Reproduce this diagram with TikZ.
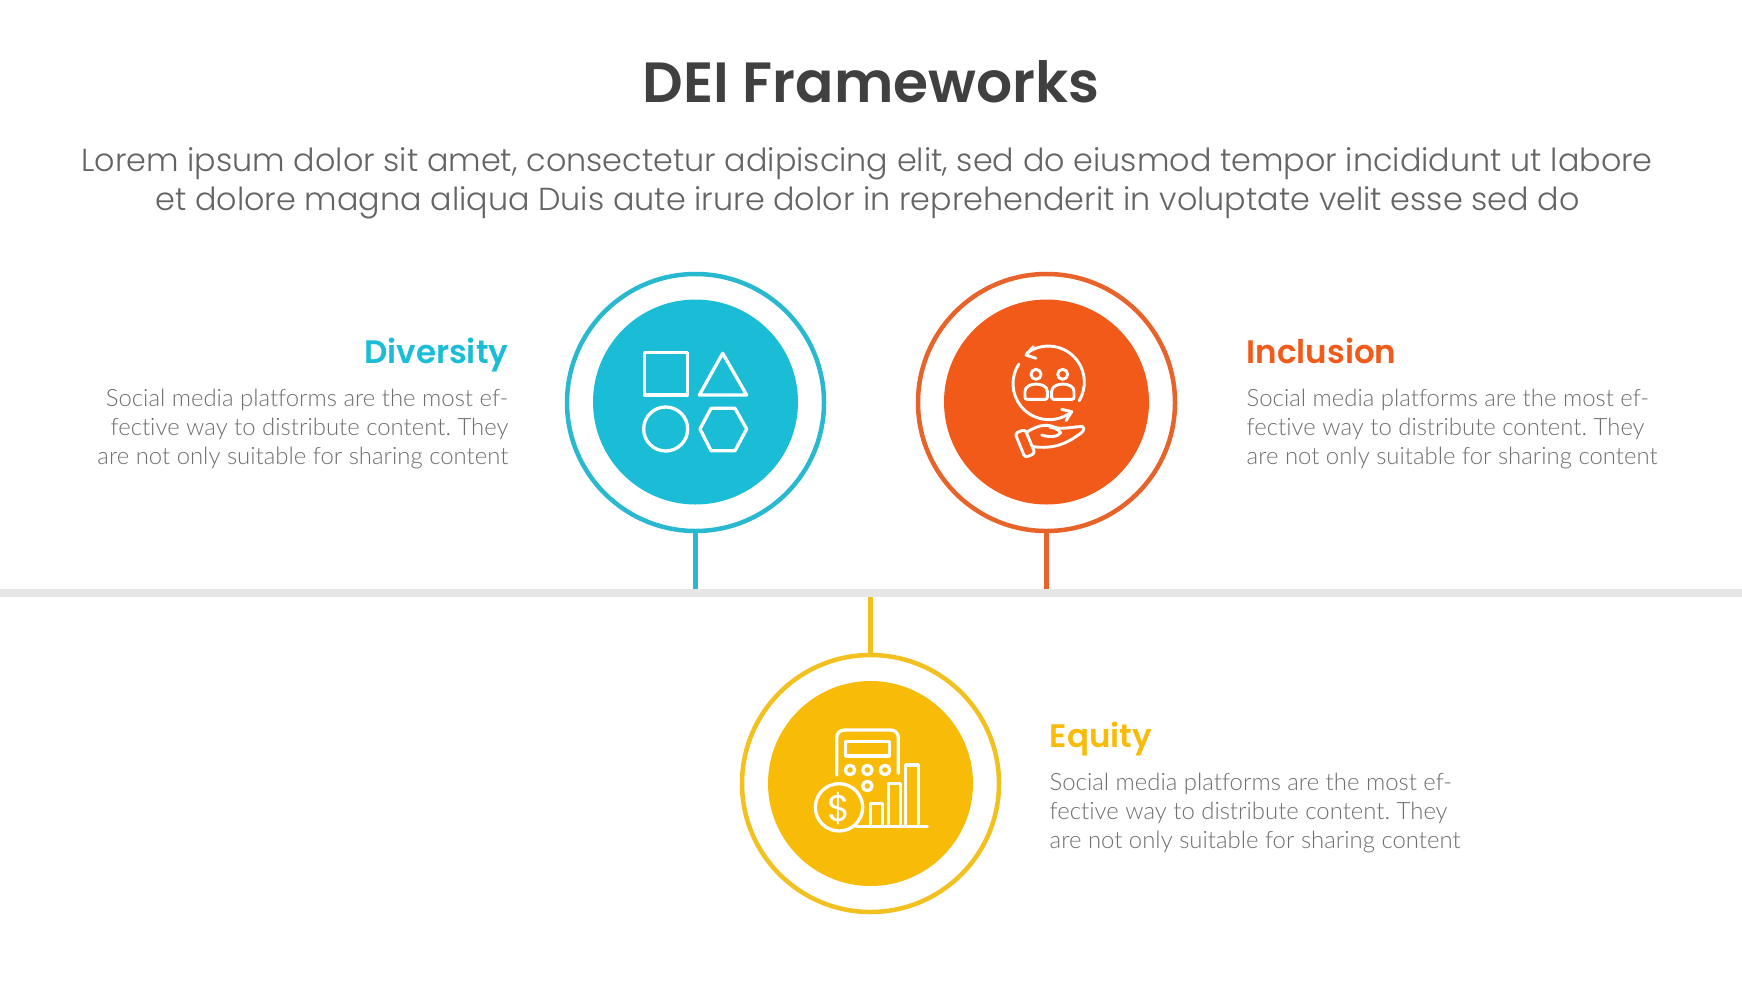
\documentclass[tikz,border=0pt]{standalone}
\usepackage{fontspec}
\setmainfont[Ligatures=NoCommon]{Lato Light}
\newfontfamily\popfont{Poppins}
\newfontfamily\poplight{Poppins Light}
\newfontfamily\popsemi{Poppins SemiBold}
\begin{document}
\begin{tikzpicture}[x=1pt,y=-1pt,
  ring/.style={circle,draw=#1,line width=4.5pt,fill=white,inner sep=0pt,minimum size=257pt},
  disc/.style={circle,fill=#1,inner sep=0pt,minimum size=205pt},
  stem/.style={draw=#1,line width=4.5pt},
  titletext/.style={anchor=base,font=\popsemi\fontsize{56.7}{60}\selectfont,text=titlegrey,inner sep=0pt},
  subtext/.style={anchor=base,font=\poplight\fontsize{31.8}{36}\selectfont,text=subgrey,inner sep=0pt},
  headtext/.style={font=\popsemi\fontsize{32.5}{36}\selectfont,inner sep=0pt},
  bodytext/.style={font=\fontsize{23.9}{29}\selectfont\frenchspacing,text=bodygrey,inner sep=0pt},
  icon/.style={draw=white,line width=3.3pt,line join=round,line cap=round},
]
\definecolor{titlegrey}{HTML}{404040}
\definecolor{subgrey}{HTML}{646464}
\definecolor{bodygrey}{HTML}{6E6E6E}
\definecolor{bandgrey}{HTML}{E6E6E6}
\definecolor{dcyan}{HTML}{1BBDD6}
\definecolor{rcyan}{HTML}{28B9D1}
\definecolor{dorange}{HTML}{F15A19}
\definecolor{rorange}{HTML}{E8632A}
\definecolor{dyellow}{HTML}{F8BC08}
\definecolor{ryellow}{HTML}{F2C11F}
\useasboundingbox[fill=white] (0,0) rectangle (1742,980);

\node[titletext] (title) at (871,102) {DEI Frameworks};
\node[subtext] (sub1) at (867,171.5) {Lorem ipsum dolor sit amet, consectetur adipiscing elit, sed do eiusmod tempor incididunt ut labore};
\node[subtext] (sub2) at (867.5,210) {et dolore magna aliqua Duis aute irure dolor in reprehenderit in voluptate velit esse sed do};

\node[fill=bandgrey,minimum width=1742pt,minimum height=8pt,inner sep=0pt] (band) at (871,593) {};

\node[ring=rcyan] (divring) at (695.5,402.5) {};
\node[disc=dcyan] (divdisc) at (695.5,402) {};
\node[ring=rorange] (incring) at (1046.5,402.5) {};
\node[disc=dorange] (incdisc) at (1046.5,402) {};
\node[ring=ryellow] (equring) at (870.5,783.5) {};
\node[disc=dyellow] (equdisc) at (870.5,783.5) {};

\draw[stem=rcyan] (divring.south) -- (divring.south |- band.north);
\draw[stem=rorange] (incring.south) -- (incring.south |- band.north);
\draw[stem=ryellow] (equring.north) -- (equring.north |- band.south);

% Diversity icon
\begin{scope}[shift={(560,260)},x=0.33333pt,y=-0.33333pt]
  \draw[icon] (253,278) rectangle (383,405);
  \draw[icon] (488,280) -- (418,405) -- (560,405) -- cycle;
  \draw[icon] (317,507) circle[radius=66];
  \draw[icon] (420,507) -- (453,445) -- (525,445) -- (560,507) -- (525,572) -- (453,572) -- cycle;
\end{scope}

% Inclusion icon
\begin{scope}[shift={(930,290)},x=0.33333pt,y=-0.33333pt,icon/.append style={line width=2.9pt}]
  \draw[icon] (290,190) arc[start angle=-127,end angle=31,radius=108];
  \draw[icon] (425,365) arc[start angle=51,end angle=213,radius=108];
  \draw[icon] (310,170) -- (288,195) -- (318,205);
  \draw[icon] (395,358) -- (425,365) -- (408,392);
  \draw[icon] (318,253) circle[radius=15];
  \draw[icon] (398,253) circle[radius=15];
  \draw[icon,rounded corners=2pt] (285,328) -- (285,310) .. controls (285,275) and (352,275) .. (352,310) -- (352,328) -- cycle;
  \draw[icon,rounded corners=2pt] (365,328) -- (365,310) .. controls (365,275) and (432,275) .. (432,310) -- (432,328) -- cycle;
  \draw[icon,rounded corners=3pt] (255,430) -- (285,418) -- (315,490) -- (285,503) -- cycle;
  \draw[icon] (288,428) .. controls (315,410) and (345,398) .. (375,412)
     .. controls (395,420) and (440,408) .. (458,410)
     .. controls (468,418) and (455,430) .. (440,438)
     .. controls (410,460) and (370,478) .. (310,470);
  \draw[icon] (335,435) .. controls (355,442) and (385,442) .. (392,428) .. controls (385,418) and (370,412) .. (360,412);
\end{scope}

% Equity icon
\begin{scope}[shift={(780,690)},x=0.33333pt,y=-0.33333pt]
  \draw[icon] (170,255) -- (170,145) .. controls (170,128) and (180,120) .. (195,120) -- (330,120) .. controls (345,120) and (355,128) .. (355,145) -- (355,250);
  \draw[icon] (197,155) rectangle (328,198);
  \draw[icon] (210,240) circle[radius=14];
  \draw[icon] (262,240) circle[radius=14];
  \draw[icon] (315,240) circle[radius=14];
  \draw[icon] (262,288) circle[radius=14];
  \draw[icon] (177,352) circle[radius=71];
  \draw[icon] (272,408) -- (272,340) -- (308,340) -- (308,408);
  \draw[icon] (325,408) -- (325,280) -- (362,280) -- (362,408);
  \draw[icon] (377,408) -- (377,225) -- (415,225) -- (415,408);
  \draw[icon] (228,410) -- (442,410);
  \node[text=white,font=\popfont\fontsize{37}{39}\selectfont,inner sep=0pt] (dollar) at (177,355) {\$};
\end{scope}

\node[headtext,text=dcyan,anchor=base east] (divhead) at (508.5,363) {Diversity};
\node[bodytext,anchor=base east] (divb1) at (508.5,406) {Social media platforms are the most ef-};
\node[bodytext,anchor=base east] (divb2) at (508.5,435) {fective way to distribute content. They};
\node[bodytext,anchor=base east] (divb3) at (508.5,464) {are not only suitable for sharing content};

\node[headtext,text=dorange,anchor=base west] (inchead) at (1246.5,363) {Inclusion};
\node[bodytext,anchor=base west] (incb1) at (1246.5,406) {Social media platforms are the most ef-};
\node[bodytext,anchor=base west] (incb2) at (1246.5,435) {fective way to distribute content. They};
\node[bodytext,anchor=base west] (incb3) at (1246.5,464) {are not only suitable for sharing content};

\node[headtext,text=dyellow,anchor=base west] (equhead) at (1049.5,747) {Equity};
\node[bodytext,anchor=base west] (equb1) at (1049.5,790) {Social media platforms are the most ef-};
\node[bodytext,anchor=base west] (equb2) at (1049.5,819) {fective way to distribute content. They};
\node[bodytext,anchor=base west] (equb3) at (1049.5,848) {are not only suitable for sharing content};
\end{tikzpicture}
\end{document}
